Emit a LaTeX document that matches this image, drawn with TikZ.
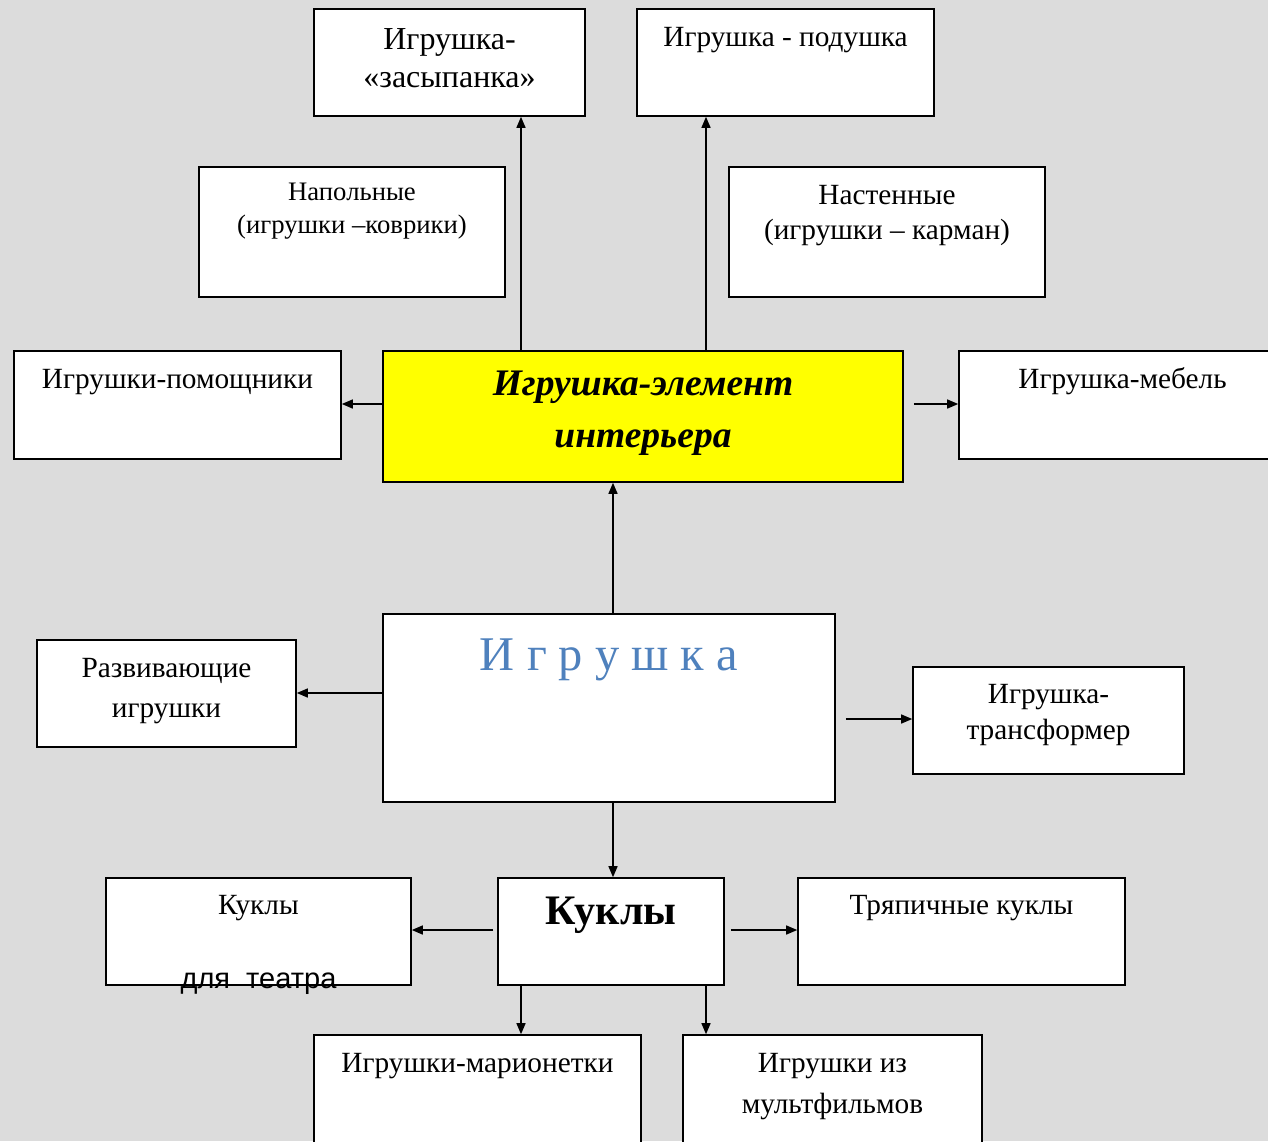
\documentclass[tikz,border=0pt]{standalone}
\usepackage{fontspec}
\setmainfont{Liberation Serif}
\newfontfamily\arialfont{Liberation Sans}
\usetikzlibrary{arrows.meta}
\definecolor{bggray}{RGB}{220,220,220}
\definecolor{igrblue}{RGB}{79,129,189}
\definecolor{elemyellow}{RGB}{255,255,0}
\newcommand{\fs}[2]{\fontsize{#1}{#2}\selectfont}

\begin{document}
\begin{tikzpicture}[x=1pt,y=-1pt,
    box/.style={draw, line width=1.6pt, fill=white, rectangle, inner sep=0pt},
    ttl/.style={anchor=north, align=center, inner sep=0pt, font=\fs{29.3}{38}},
    arr/.style={-{Triangle[length=11pt,width=9pt]}, line width=1.4pt}]
  \useasboundingbox (0,0) rectangle (1268,1141);
  \clip (0,0) rectangle (1268,1141);
  \fill[bggray] (0,0) rectangle (1268,1141);
  % columns and rows of the connectors
  \coordinate (colL) at (521,0);
  \coordinate (colM) at (613,0);
  \coordinate (colR) at (706,0);
  \coordinate (rowA) at (0,404);
  \coordinate (rowB) at (0,693);
  \coordinate (rowC) at (0,719);
  \coordinate (rowD) at (0,930);
  % top
  \node[box, minimum width=271, minimum height=107,
    label={[ttl, yshift=-20.5pt, font=\fs{32}{38}]north:Игрушка-\\«засыпанка»}] (zasyp) at (449.5,62.5) {};
  \node[box, minimum width=297, minimum height=107,
    label={[ttl, yshift=-18.5pt]north:Игрушка - подушка}] (podush) at (785.5,62.5) {};
  \node[box, minimum width=306, minimum height=130,
    label={[ttl, yshift=-16.5pt, font=\fs{26.7}{33}]north:Напольные\\(игрушки –коврики)}] (napol) at (352,232) {};
  \node[box, minimum width=316, minimum height=130,
    label={[ttl, yshift=-18.5pt, font=\fs{29.3}{35}]north:Настенные\\(игрушки – карман)}] (nasten) at (887,232) {};
  % middle
  \node[box, minimum width=327, minimum height=108,
    label={[ttl, yshift=-18.5pt]north:Игрушки-помощники}] (pomosh) at (177.5,405) {};
  \node[box, fill=elemyellow, minimum width=520, minimum height=131,
    label={[ttl, yshift=-20.5pt, font=\fs{37.5}{52}\bfseries\itshape]north:Игрушка-элемент\\интерьера}] (elem) at (643,416.5) {};
  \node[box, minimum width=327, minimum height=108,
    label={[ttl, yshift=-17pt]north:Игрушка-мебель}] (mebel) at (1122.5,405) {};
  \node[box, minimum width=452, minimum height=188,
    label={[ttl, yshift=-25.5pt, font=\fs{48.4}{52}, text=igrblue]north:И г р у ш к а}] (igr) at (609,708) {};
  \node[box, minimum width=259, minimum height=107,
    label={[ttl, yshift=-18.5pt, font=\fs{29.3}{40}]north:Развивающие\\игрушки}] (razv) at (166.5,693.5) {};
  \node[box, minimum width=271, minimum height=107,
    label={[ttl, yshift=-17.5pt, font=\fs{29.3}{36}]north:Игрушка-\\трансформер}] (transf) at (1048.5,720.5) {};
  % bottom
  \node[box, minimum width=226, minimum height=107,
    label={[ttl, yshift=-20pt, font=\fs{42}{44}\bfseries]north:Куклы}] (kukly) at (611,931.5) {};
  \node[box, minimum width=305, minimum height=107,
    label={[ttl, yshift=-18pt]north:Куклы},
    label={[anchor=base, inner sep=0pt, font=\arialfont\fs{29}{30}, yshift=-3pt]south:для~~театра}] (teatr) at (258.5,931.5) {};
  \node[box, minimum width=327, minimum height=107,
    label={[ttl, yshift=-18pt]north:Тряпичные куклы}] (trjap) at (961.5,931.5) {};
  \node[box, minimum width=327, minimum height=135,
    label={[ttl, yshift=-19pt]north:Игрушки-марионетки}] (marion) at (477.5,1102.5) {};
  \node[box, minimum width=299, minimum height=135,
    label={[ttl, yshift=-19pt, font=\fs{29.3}{41}]north:Игрушки из\\мультфильмов}] (mult) at (832.5,1102.5) {};
  % connectors
  \draw[arr] (elem.north -| colL) -- (zasyp.south -| colL);
  \draw[arr] (elem.north -| colR) -- (podush.south -| colR);
  \draw[arr] (elem.west |- rowA) -- (pomosh.east |- rowA);
  \draw[arr, shorten <=10pt] (elem.east |- rowA) -- (mebel.west |- rowA);
  \draw[arr] (igr.north -| colM) -- (elem.south -| colM);
  \draw[arr] (igr.west |- rowB) -- (razv.east |- rowB);
  \draw[arr, shorten <=10pt] (igr.east |- rowC) -- (transf.west |- rowC);
  \draw[arr] (igr.south -| colM) -- (kukly.north -| colM);
  \draw[arr, shorten <=4pt] (kukly.west |- rowD) -- (teatr.east |- rowD);
  \draw[arr, shorten <=6pt] (kukly.east |- rowD) -- (trjap.west |- rowD);
  \draw[arr] (kukly.south -| colL) -- (marion.north -| colL);
  \draw[arr] (kukly.south -| colR) -- (mult.north -| colR);
\end{tikzpicture}
\end{document}
